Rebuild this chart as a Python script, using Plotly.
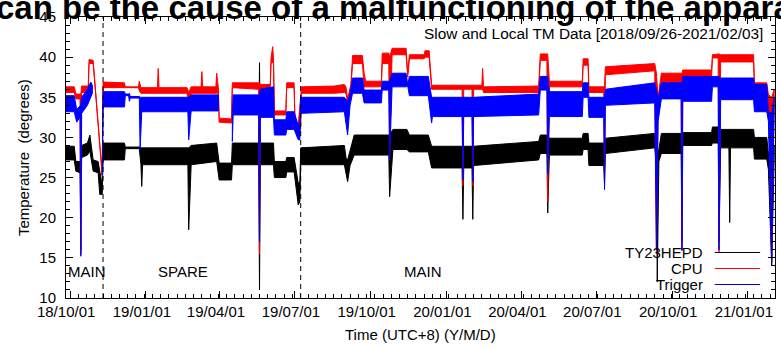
import plotly.graph_objects as go

# ---------------- data ----------------
# each row: (date, band low, band high); None row = data gap
hepd_rows = [
    ("2018-09-26", 27.2, 28.9), ("2018-10-06", 27.2, 28.9), ("2018-10-08", 25.8, 27.0),
    ("2018-10-13", 25.6, 27.0), ("2018-10-14", 16.0, 27.0), ("2018-10-15", 27.5, 29.0),
    ("2018-10-22", 27.8, 29.3), ("2018-10-25", 28.3, 30.3), ("2018-10-27", 27.0, 28.5),
    ("2018-10-29", 25.8, 27.2), ("2018-11-04", 25.6, 27.0), ("2018-11-06", 22.9, 25.6),
    ("2018-11-09", 22.9, 24.0), ("2018-11-10", 27.2, 29.3), ("2018-12-06", 27.2, 29.3),
    ("2018-12-07", 28.6, 28.8), ("2018-12-24", 28.6, 28.8), ("2018-12-26", 26.6, 28.7),
    ("2018-12-27", 23.9, 28.7), ("2018-12-28", 26.6, 28.7), ("2019-02-21", 26.6, 28.7),
    ("2019-02-22", 18.5, 28.7), ("2019-02-25", 26.6, 29.0), ("2019-03-28", 27.0, 29.3),
    ("2019-03-31", 24.7, 26.8), ("2019-04-15", 24.7, 26.8), ("2019-04-16", 26.6, 29.3),
    ("2019-05-18", 26.6, 29.3), ("2019-05-19", 11.0, 39.3), ("2019-05-20", 26.6, 29.3),
    ("2019-06-05", 26.6, 29.3), ("2019-06-06", 25.0, 27.0), ("2019-06-20", 25.0, 27.0),
    ("2019-06-21", 25.7, 27.5), ("2019-06-30", 25.7, 27.5), ("2019-07-02", 24.3, 26.0),
    ("2019-07-05", 21.6, 24.3), ("2019-07-07", 22.0, 24.5), ("2019-07-08", 26.6, 28.7),
    ("2019-08-30", 26.6, 29.0), ("2019-09-01", 25.5, 27.5), ("2019-09-03", 24.5, 27.2),
    ("2019-09-06", 26.5, 28.5), ("2019-09-11", 27.8, 30.3), ("2019-10-23", 27.8, 30.3),
    ("2019-10-24", 22.6, 30.3), ("2019-10-28", 28.5, 31.0), ("2019-11-14", 28.5, 31.0),
    ("2019-11-17", 28.2, 30.3), ("2019-12-10", 28.2, 30.3), ("2019-12-14", 26.2, 28.9),
    ("2020-01-20", 26.2, 28.9), ("2020-01-21", 19.8, 28.9), ("2020-01-22", 26.2, 28.9),
    ("2020-02-01", 26.2, 28.9), ("2020-02-02", 19.8, 28.9), ("2020-02-03", 26.5, 28.9),
    ("2020-04-22", 27.2, 29.5), ("2020-04-24", 28.0, 30.3), ("2020-05-02", 28.0, 30.3),
    ("2020-05-03", 20.6, 30.3), ("2020-05-05", 27.8, 29.9), ("2020-06-14", 27.8, 29.9),
    ("2020-06-15", 28.5, 30.5), ("2020-06-21", 28.5, 30.5), ("2020-06-22", 26.5, 29.3),
    ("2020-07-10", 26.5, 29.3), ("2020-07-11", 24.0, 29.3), ("2020-07-12", 28.0, 29.9),
    ("2020-09-10", 28.7, 30.5), ("2020-09-12", 26.5, 28.0), ("2020-09-13", 12.0, 28.0),
    ("2020-09-15", 27.0, 28.5), ("2020-09-18", 28.0, 30.5), ("2020-10-12", 28.0, 30.5),
    ("2020-10-13", 17.0, 30.5), ("2020-10-14", 29.0, 30.6), ("2020-11-18", 29.0, 30.6),
    ("2020-11-19", 29.3, 31.3), ("2020-11-26", 29.3, 31.3), ("2020-11-27", 17.0, 31.3),
    ("2020-11-29", 28.7, 31.0), ("2020-12-09", 28.7, 31.0), ("2020-12-10", 19.4, 31.0),
    ("2020-12-11", 28.7, 31.0), ("2021-01-08", 28.7, 31.0), ("2021-01-09", 27.3, 30.0),
    ("2021-01-24", 27.3, 30.0), ("2021-01-26", 26.0, 28.0), ("2021-01-30", 14.0, 28.0),
    ("2021-02-02", 27.5, 29.0),
]

cpu_rows = [
    ("2018-09-26", 35.6, 36.3), ("2018-10-06", 35.6, 36.3), ("2018-10-08", 34.8, 35.4),
    ("2018-10-13", 34.8, 35.4), ("2018-10-14", 15.4, 35.4), ("2018-10-15", 35.6, 36.4),
    ("2018-10-23", 35.6, 36.4), ("2018-10-24", 39.2, 39.7), ("2018-10-29", 39.2, 39.6),
    ("2018-11-09", 25.2, 25.4), ("2018-11-10", 36.2, 36.9), ("2018-12-06", 36.2, 36.8),
    ("2018-12-07", 36.2, 36.3), ("2018-12-23", 36.2, 36.3), ("2018-12-24", 35.8, 37.0),
    ("2018-12-26", 35.5, 36.2), ("2019-01-15", 35.5, 36.2), ("2019-01-16", 35.5, 38.6),
    ("2019-01-17", 35.5, 36.2), ("2019-02-20", 35.5, 36.2), ("2019-02-22", 33.0, 35.6),
    ("2019-02-25", 35.5, 36.3), ("2019-03-09", 35.5, 36.3), ("2019-03-10", 35.5, 38.2),
    ("2019-03-11", 35.5, 36.3), ("2019-03-27", 35.5, 36.3), ("2019-03-28", 35.5, 38.0),
    ("2019-03-30", 35.5, 36.2), ("2019-03-31", 31.9, 32.4), ("2019-04-15", 31.8, 32.3),
    ("2019-04-16", 36.2, 36.8), ("2019-05-18", 36.0, 36.8), ("2019-05-19", 15.5, 36.8),
    ("2019-05-20", 35.8, 36.6), ("2019-06-01", 35.8, 36.6), ("2019-06-02", 39.3, 39.9),
    ("2019-06-04", 39.3, 41.3), ("2019-06-05", 39.3, 39.8), ("2019-06-06", 32.8, 33.3),
    ("2019-06-20", 32.8, 33.3), ("2019-06-21", 36.2, 36.8), ("2019-06-30", 36.2, 36.8),
    ("2019-07-01", 32.0, 32.5), ("2019-07-05", 31.0, 31.5), ("2019-07-08", 31.0, 36.0),
    ("2019-07-09", 35.5, 36.3), ("2019-08-18", 35.5, 36.4), ("2019-08-30", 35.6, 36.6),
    ("2019-09-01", 35.5, 36.3), ("2019-09-03", 34.3, 34.8), ("2019-09-07", 36.2, 36.6),
    ("2019-09-09", 39.2, 40.2), ("2019-09-21", 39.2, 40.2), ("2019-09-23", 36.3, 38.0),
    ("2019-09-25", 36.3, 37.0), ("2019-10-14", 36.3, 37.0), ("2019-10-15", 39.2, 40.5),
    ("2019-10-23", 39.2, 40.5), ("2019-10-24", 28.0, 40.0), ("2019-10-27", 40.3, 41.1),
    ("2019-11-13", 40.3, 41.1), ("2019-11-15", 37.5, 38.0), ("2019-11-17", 39.8, 40.3),
    ("2019-12-05", 39.8, 40.3), ("2019-12-06", 40.0, 40.8), ("2019-12-11", 40.0, 40.8),
    ("2019-12-14", 36.0, 36.5), ("2020-01-20", 36.0, 36.5), ("2020-01-21", 24.0, 36.5),
    ("2020-01-22", 36.0, 36.5), ("2020-02-01", 36.0, 36.5), ("2020-02-02", 24.0, 36.5),
    ("2020-02-03", 36.0, 36.5), ("2020-02-13", 36.0, 36.5), ("2020-02-14", 36.0, 38.6),
    ("2020-02-15", 35.6, 36.3), ("2020-04-22", 35.6, 36.4), ("2020-04-24", 39.6, 40.4),
    ("2020-05-02", 39.6, 40.4), ("2020-05-03", 22.0, 40.4), ("2020-05-05", 36.3, 37.0),
    ("2020-06-14", 36.3, 37.0), ("2020-06-15", 39.0, 39.8), ("2020-06-21", 39.0, 39.8),
    ("2020-06-22", 35.6, 36.3), ("2020-07-10", 35.6, 36.3), ("2020-07-11", 25.0, 36.3),
    ("2020-07-12", 37.8, 38.8), ("2020-09-10", 38.3, 39.2), ("2020-09-12", 15.5, 38.0),
    ("2020-09-14", 33.0, 35.0), ("2020-09-18", 36.8, 38.0), ("2020-10-12", 36.8, 38.0),
    ("2020-10-13", 16.0, 38.0), ("2020-10-14", 37.6, 38.4), ("2020-11-18", 37.6, 38.4),
    ("2020-11-19", 39.9, 40.3), ("2020-11-26", 39.9, 40.4), ("2020-11-27", 15.7, 40.4),
    ("2020-11-29", 39.4, 40.3), ("2021-01-08", 39.4, 40.3), ("2021-01-09", 36.2, 36.8),
    ("2021-01-24", 36.2, 36.8), ("2021-01-26", 34.8, 35.3), ("2021-01-30", 14.5, 35.0),
    ("2021-02-02", 35.5, 36.0),
]

trigger_rows = [
    ("2018-09-26", 33.2, 35.2), ("2018-10-06", 33.2, 35.2), ("2018-10-09", 31.9, 33.5),
    ("2018-10-13", 32.5, 34.0), ("2018-10-14", 15.2, 34.0), ("2018-10-15", 33.0, 35.0),
    ("2018-10-22", 34.0, 36.0), ("2018-10-26", 35.0, 36.9), ("2018-10-28", 35.5, 36.5),
    (None, None, None),
    ("2018-11-09", 25.3, 25.6), ("2018-11-10", 33.8, 35.7), ("2018-12-06", 33.8, 35.7),
    ("2018-12-07", 35.2, 35.4), ("2018-12-11", 35.2, 35.4), ("2018-12-12", 34.5, 35.5),
    ("2018-12-13", 34.9, 35.1), ("2018-12-24", 34.9, 35.1), ("2018-12-25", 28.4, 35.0),
    ("2018-12-27", 33.2, 35.0), ("2019-02-21", 33.2, 35.0), ("2019-02-22", 29.7, 35.0),
    ("2019-02-25", 33.3, 35.3), ("2019-03-30", 33.3, 35.3),
    (None, None, None),
    ("2019-04-16", 29.5, 33.0), ("2019-04-17", 32.8, 35.3), ("2019-05-18", 32.8, 35.3),
    ("2019-05-19", 17.0, 35.3), ("2019-05-20", 32.5, 36.0), ("2019-06-05", 32.5, 36.3),
    ("2019-06-06", 30.3, 32.2), ("2019-06-20", 30.3, 32.2), ("2019-06-21", 31.0, 33.2),
    ("2019-06-30", 31.0, 33.2), ("2019-07-05", 29.7, 31.5), ("2019-07-07", 29.7, 32.0),
    ("2019-07-08", 33.0, 35.0), ("2019-08-30", 33.2, 35.0), ("2019-09-03", 30.3, 34.5),
    ("2019-09-06", 34.0, 35.5), ("2019-09-09", 35.5, 37.4), ("2019-09-21", 35.5, 37.4),
    ("2019-09-23", 34.3, 35.9), ("2019-10-14", 34.3, 35.9), ("2019-10-15", 35.9, 37.0),
    ("2019-10-23", 35.9, 37.0), ("2019-10-24", 27.2, 37.0), ("2019-10-27", 36.3, 38.0),
    ("2019-11-13", 36.3, 38.0), ("2019-11-15", 36.4, 36.6), ("2019-11-17", 35.2, 37.6),
    ("2019-12-10", 35.2, 37.6), ("2019-12-14", 31.8, 35.0), ("2019-12-15", 32.6, 35.0),
    ("2020-01-20", 32.6, 35.0), ("2020-01-21", 24.7, 35.0), ("2020-01-22", 32.6, 35.0),
    ("2020-02-01", 32.6, 35.0), ("2020-02-02", 24.5, 35.0), ("2020-02-03", 32.6, 35.0),
    ("2020-04-22", 32.8, 35.4), ("2020-04-24", 35.9, 37.6), ("2020-05-02", 35.9, 37.6),
    ("2020-05-03", 25.5, 37.6), ("2020-05-05", 32.6, 35.7), ("2020-06-14", 32.6, 35.7),
    ("2020-06-15", 35.0, 36.8), ("2020-06-21", 35.0, 36.8), ("2020-06-22", 32.5, 35.0),
    ("2020-07-10", 32.5, 35.0), ("2020-07-11", 23.5, 35.0), ("2020-07-12", 34.0, 36.0),
    ("2020-09-10", 34.3, 36.8), ("2020-09-12", 16.0, 36.0), ("2020-09-14", 32.0, 34.7),
    ("2020-09-18", 34.8, 36.8), ("2020-10-12", 34.8, 36.8), ("2020-10-13", 15.9, 36.8),
    ("2020-10-14", 34.5, 37.6), ("2020-11-18", 34.5, 37.6), ("2020-11-19", 36.3, 37.6),
    ("2020-11-26", 36.3, 37.6), ("2020-11-27", 16.0, 37.6), ("2020-11-29", 34.7, 37.4),
    ("2021-01-08", 34.7, 37.4), ("2021-01-09", 33.2, 36.6), ("2021-01-24", 33.2, 36.6),
    ("2021-01-26", 32.0, 33.2), ("2021-01-30", 14.4, 33.0), ("2021-02-02", 33.5, 35.0),
]

series_names = ["TY23HEPD", "CPU", "Trigger"]
series_colors = ["#000000", "#ff0000", "#0000ff"]
switch_dates = ["2018-11-10", "2019-07-08"]          # MAIN -> SPARE -> MAIN
mode_labels = ["MAIN", "SPARE", "MAIN"]
mode_label_dates = ["2018-10-21", "2019-02-15", "2019-12-04"]
x_range = ["2018-09-26", "2021-02-03"]
y_range = [10, 45]


def band_polygon(rows):
    """Build closed polygons (envelope of each continuous segment)."""
    xs, ys = [], []
    seg = []
    for r in rows + [(None, None, None)]:
        if r[0] is None:
            if seg:
                d = [s[0] for s in seg]
                lo = [s[1] for s in seg]
                hi = [s[2] for s in seg]
                xs += d + d[::-1] + [d[0], None]
                ys += hi + lo[::-1] + [hi[0], None]
            seg = []
        else:
            seg.append(r)
    return xs, ys


fig = go.Figure()
for rows, name, col in zip([hepd_rows, cpu_rows, trigger_rows], series_names, series_colors):
    px, py = band_polygon(rows)
    fig.add_trace(go.Scatter(x=px, y=py, mode="lines", fill="toself", fillcolor=col,
                             line=dict(color=col, width=1), name=name,
                             showlegend=False, hoverinfo="skip"))

FONT = "Liberation Sans, Arial, Helvetica, sans-serif"

shapes = []
for d in switch_dates:
    shapes.append(dict(type="line", xref="x", yref="paper", x0=d, x1=d, y0=0, y1=1,
                       line=dict(color="black", width=1, dash="5px,4px")))

annotations = []
for lab, d in zip(mode_labels, mode_label_dates):
    annotations.append(dict(x=d, y=0.094, xref="x", yref="paper", text=lab,
                            showarrow=False, font=dict(size=15, family=FONT, color="black"),
                            xanchor="center", yanchor="middle"))

# gnuplot-style key (text right, line sample left of frame edge)
key_y = [0.162, 0.105, 0.048]
for name, col, ky in zip(series_names, series_colors, key_y):
    annotations.append(dict(x=0.901, y=ky, xref="paper", yref="paper", text=name,
                            showarrow=False, xanchor="right", yanchor="middle",
                            font=dict(size=15, family=FONT, color="black")))
    shapes.append(dict(type="line", xref="paper", yref="paper", x0=0.915, x1=0.979,
                       y0=ky, y1=ky, line=dict(color=col, width=1)))

annotations.append(dict(x=0.986, y=0.943, xref="paper", yref="paper",
                        text="Slow and Local TM Data [2018/09/26-2021/02/03]",
                        showarrow=False, xanchor="right", yanchor="middle",
                        font=dict(size=15.4, family=FONT, color="black")))
annotations.append(dict(x=0.5, y=-0.13, xref="paper", yref="paper",
                        text="Time (UTC+8) (Y/M/D)", showarrow=False,
                        xanchor="center", yanchor="middle",
                        font=dict(size=15, family=FONT, color="black")))
annotations.append(dict(x=-0.045, y=0.5, xref="paper", yref="paper",
                        text="Temperature\u00a0 (degrees)", showarrow=False, textangle=-90,
                        xanchor="right", yanchor="middle",
                        font=dict(size=15, family=FONT, color="black")))
# clipped page heading above the chart
annotations.append(dict(x=-0.1016, y=1.0345, xref="paper", yref="paper",
                        text="<b>can be the cause of a malfunctioning of the apparatus</b>",
                        showarrow=False, xanchor="left", yanchor="middle",
                        font=dict(size=33, family=FONT, color="black")))

fig.update_layout(
    width=781, height=347,
    margin=dict(l=66, r=6, t=17, b=49),
    plot_bgcolor="white", paper_bgcolor="white",
    showlegend=False,
    font=dict(family=FONT, size=15, color="black"),
    shapes=shapes, annotations=annotations,
    xaxis=dict(type="date", range=x_range, tick0="2018-10-01", dtick="M3",
               tickformat="%y/%m/%d", ticks="inside", ticklen=7, tickcolor="black",
               showline=True, linecolor="black", linewidth=1, mirror="allticks",
               showgrid=False, zeroline=False, ticklabelshift=-4, automargin=False,
               tickfont=dict(size=15, family=FONT, color="black"),
               minor=dict(dtick=864000000, tick0="2018-10-01", ticks="inside",
                          ticklen=4, tickcolor="black", showgrid=False)),
    yaxis=dict(range=y_range, dtick=5, ticks="inside", ticklen=7, tickcolor="black",
               showline=True, linecolor="black", linewidth=1, mirror="allticks",
               showgrid=False, zeroline=False, ticklabelstandoff=6, automargin=False,
               tickfont=dict(size=15, family=FONT, color="black"),
               minor=dict(dtick=1, ticks="inside", ticklen=4, tickcolor="black",
                          showgrid=False)),
)

# the page's default 8px body margin would shift the chart; remove it
fig.write_html("out.html", config={"displayModeBar": False},
               post_script="document.body.style.margin='0';document.body.style.padding='0';")
